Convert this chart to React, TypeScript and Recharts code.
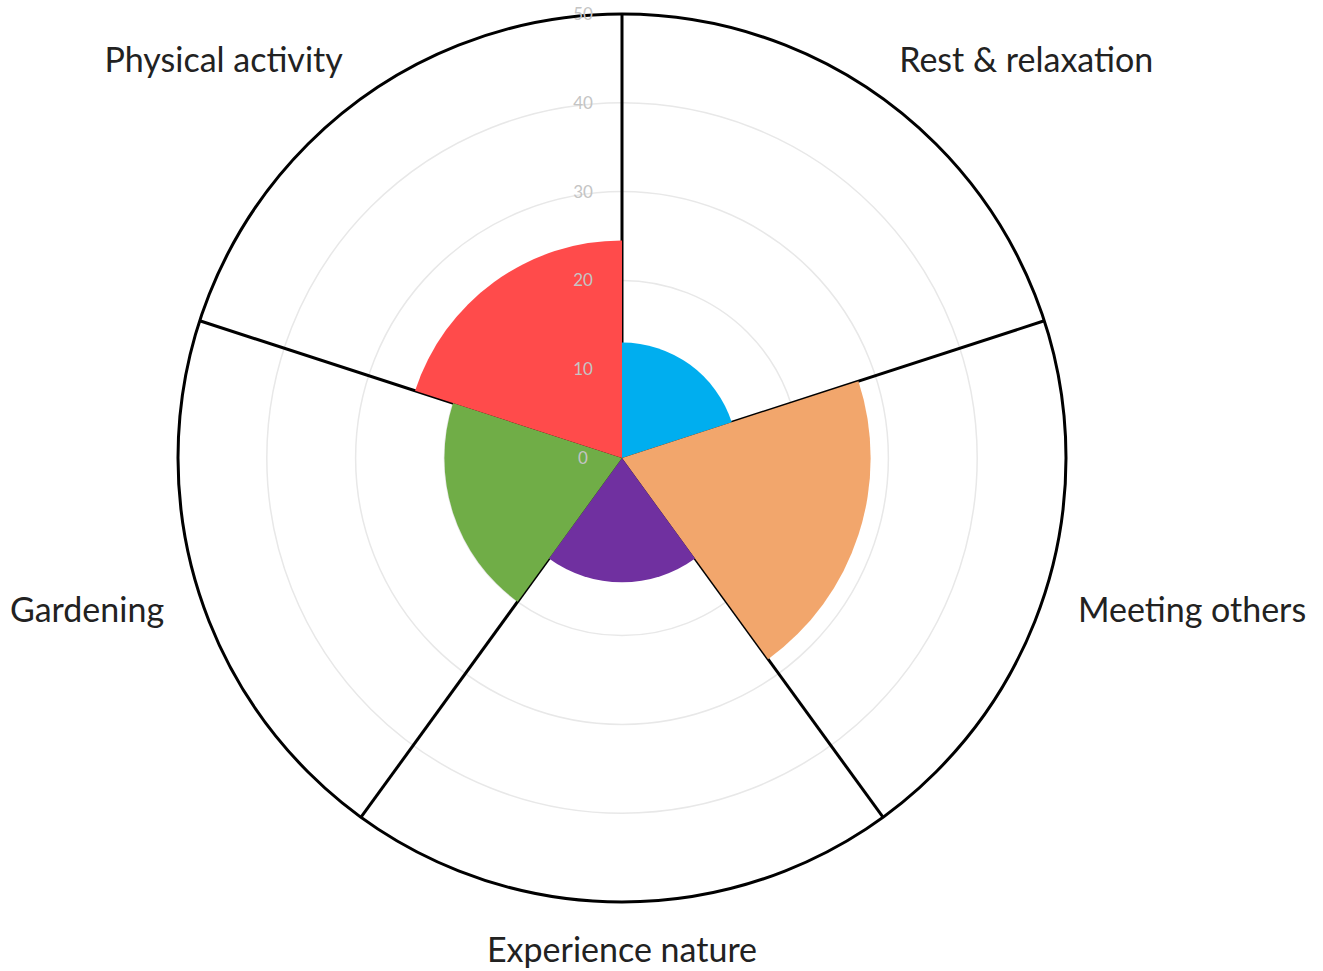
import { RadialBarChart, RadialBar, PolarAngleAxis, PolarRadiusAxis, PolarGrid, Cell } from "recharts";

const categories = ["Rest & relaxation", "Meeting others", "Experience nature", "Gardening", "Physical activity"];
const values = [13, 28, 14, 20, 24.5];
const colors = ["#00aeef", "#f2a66c", "#7030a0", "#70ad47", "#ff4b4b"];
const radiusTicks = [0, 10, 20, 30, 40, 50];

const data = categories.map((name, i) => ({ name, value: values[i] }));

const CX = 622;
const CY = 458;
const OUTER = 444;
const FONT = "Lato, 'Noto Sans', sans-serif";
const STEP = 360 / categories.length;

// sector edges (band boundaries), not band centres
const edgeAngles = categories.map((_, i) => 90 - i * STEP);

// tick coordinate sits on a sector edge, so move the label to the sector's middle
function AngleTick(props: any) {
  const { payload } = props;
  const deg = payload.coordinate + STEP / 2;
  const rad = (deg * Math.PI) / 180;
  const r = OUTER + 48;
  const cos = Math.cos(rad);
  const x = CX + r * cos;
  const y = CY - r * Math.sin(rad);
  const anchor = cos > 0.01 ? "start" : cos < -0.01 ? "end" : "middle";
  const dx = cos > 0.01 ? -12 : cos < -0.01 ? 10 : 0;
  return (
    <text x={x + dx} y={y} dy="0.35em" textAnchor={anchor} fontSize={34} fontFamily={FONT} fill="#222">
      {payload.value}
    </text>
  );
}

function RadiusTick(props: any) {
  const { x, y, payload } = props;
  return (
    <text x={x - 39} y={y} dy="0.35em" textAnchor="middle" fontSize={17} fontFamily={FONT} fill="#c4c4c4">
      {payload.value}
    </text>
  );
}

export default function App() {
  return (
    <div style={{ width: 1323, height: 971, background: "#fff" }}>
      <style>{"body{margin:0}"}</style>
      <RadialBarChart
        width={1323}
        height={971}
        data={data}
        layout="centric"
        cx={CX}
        cy={CY}
        innerRadius={0}
        outerRadius={OUTER}
        startAngle={90 - STEP}
        endAngle={-270 - STEP}
        barCategoryGap={0}
        margin={{ top: 0, right: 0, bottom: 0, left: 0 }}
      >
        <PolarGrid gridType="circle" radialLines={false} stroke="#e8e8e8" strokeWidth={1.5} />
        <PolarAngleAxis
          type="category"
          dataKey="name"
          axisLineType="circle"
          axisLine={{ stroke: "#000", strokeWidth: 3 }}
          tickLine={false}
          tick={<AngleTick />}
        />
        <PolarRadiusAxis
          type="number"
          domain={[0, 50]}
          ticks={radiusTicks}
          angle={90}
          axisLine={false}
          tickLine={false}
          tick={<RadiusTick />}
        />
        <RadialBar dataKey="value" isAnimationActive={false}>
          {data.map((d, i) => (
            <Cell key={d.name} fill={colors[i]} />
          ))}
        </RadialBar>
        <PolarGrid
          gridType="circle"
          polarAngles={edgeAngles}
          polarRadius={[0]}
          stroke="#000"
          strokeWidth={3}
        />
      </RadialBarChart>
    </div>
  );
}
